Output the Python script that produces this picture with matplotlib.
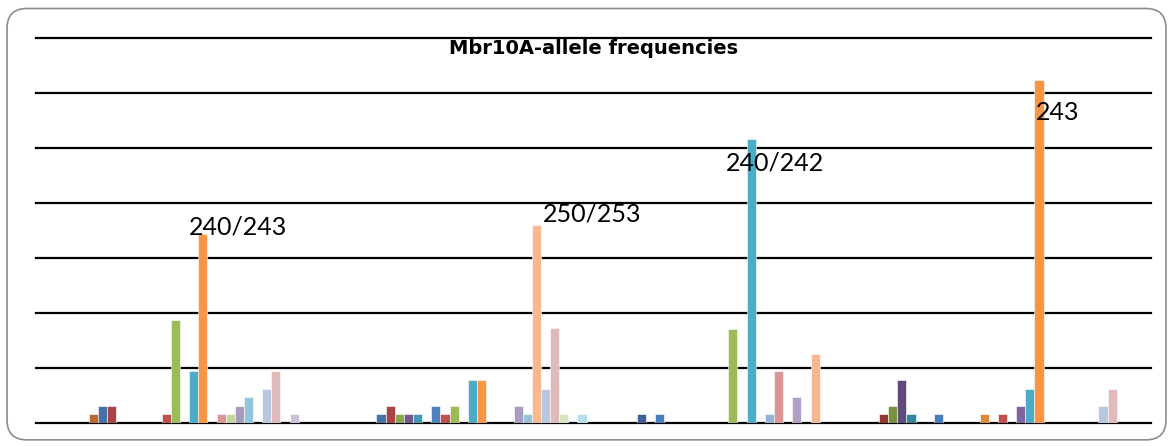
import numpy as np
import matplotlib
matplotlib.use("Agg")
import matplotlib.pyplot as plt
from matplotlib.patches import FancyBboxPatch

plt.rcParams["font.family"] = ["Lato", "DejaVu Sans"]

TITLE = "Mbr10A-allele frequencies"
N_SERIES = 29          # allele slots per group
GAP = 1.5              # gap between groups, in bar widths

# group 1
g1_idx = [5, 6, 7, 13, 14, 16, 17, 19, 20, 21, 22, 24, 25, 27]
g1_val = [0.016, 0.030, 0.030, 0.016, 0.187, 0.094, 0.344, 0.016, 0.016, 0.030, 0.046, 0.061, 0.094, 0.016]
g1_col = ["#B9692F", "#4672AA", "#A94442", "#C0504D", "#9BBB59", "#4BACC6", "#F79646",
          "#D99694", "#C3D69B", "#A99BC0", "#93C4D8", "#B9C7E0", "#E0BABA", "#CCC1DA"]
# group 2
g2_idx = [6, 7, 8, 9, 10, 12, 13, 14, 16, 17, 21, 22, 23, 24, 25, 26, 28]
g2_val = [0.015, 0.030, 0.016, 0.016, 0.016, 0.030, 0.016, 0.030, 0.078, 0.078, 0.030, 0.016,
          0.360, 0.061, 0.172, 0.016, 0.016]
g2_col = ["#4672AA", "#A94442", "#89A54E", "#71588F", "#4198AF", "#4F81BD", "#C0504D", "#9BBB59",
          "#4BACC6", "#F79646", "#A99BC0", "#93C4D8", "#F9B990", "#B9C7E0", "#E0BABA", "#D7E4BD", "#B7DDE8"]
# group 3
g3_idx = [4, 6, 14, 16, 18, 19, 21, 23]
g3_val = [0.016, 0.016, 0.171, 0.516, 0.016, 0.094, 0.047, 0.125]
g3_col = ["#3D6495", "#4A7EBB", "#9BBB59", "#4BACC6", "#95B3D7", "#D99694", "#ADA0C4", "#F9B990"]
# group 4
g4_idx = [0, 1, 2, 3, 6, 11, 13, 15, 16, 17, 24, 25]
g4_val = [0.016, 0.030, 0.078, 0.016, 0.016, 0.016, 0.016, 0.030, 0.061, 0.624, 0.030, 0.061]
g4_col = ["#953735", "#77933C", "#604A7B", "#31859C", "#4A7EBB", "#DD8A3F", "#C0504D",
          "#8064A2", "#4BACC6", "#F79646", "#B9C7E0", "#E0BABA"]

groups = [(g1_idx, g1_val, g1_col), (g2_idx, g2_val, g2_col),
          (g3_idx, g3_val, g3_col), (g4_idx, g4_val, g4_col)]

# peak labels: group, slot, text, offset in px
peak_grp = [0, 1, 2, 3]
peak_slot = [17, 23, 16, 17]
peak_txt = ["240/243", "250/253", "240/242", "243"]
peak_off = [(-9, 7), (11, 11), (-21, -24), (1, -32)]

fig = plt.figure(figsize=(11.73, 4.47), dpi=100)
fig.patches.append(FancyBboxPatch((0.006, 0.016), 0.988, 0.965, boxstyle="round,pad=0,rounding_size=0.017",
                                  transform=fig.transFigure, fc="none", ec="#8c8c8c", lw=1.2,
                                  mutation_aspect=1173 / 447, zorder=0))
ax = fig.add_axes([0.0307, 0.0544, 0.9505, 0.8599])
ax.set_facecolor("none")

pitch = N_SERIES + GAP
for g, (idx, val, col) in enumerate(groups):
    x = g * pitch + GAP / 2 + np.array(idx)
    ax.bar(x, val, width=1.0, align="edge", color=col, edgecolor="white", linewidth=0.4, zorder=3)

for y in np.arange(0, 0.71, 0.1):
    ax.axhline(y, color="black", lw=1.6, zorder=2, clip_on=False)

for g, s, t, (dx, dy) in zip(peak_grp, peak_slot, peak_txt, peak_off):
    i = groups[g][0].index(s)
    x = g * pitch + GAP / 2 + s
    ax.annotate(t, (x, groups[g][1][i]), xytext=(dx * 0.72, dy * 0.72), textcoords="offset points",
                ha="left", va="center", fontsize=18, zorder=4)

ax.set_xlim(0, 4 * pitch)
ax.set_ylim(0, 0.7)
ax.set_xticks([]); ax.set_yticks([])
for sp in ax.spines.values():
    sp.set_visible(False)
ax.text(0.5, 0.973, TITLE, transform=ax.transAxes, ha="center", va="center",
        fontsize=14, fontweight="bold", family="DejaVu Sans")

fig.savefig("out.png", dpi=100)
